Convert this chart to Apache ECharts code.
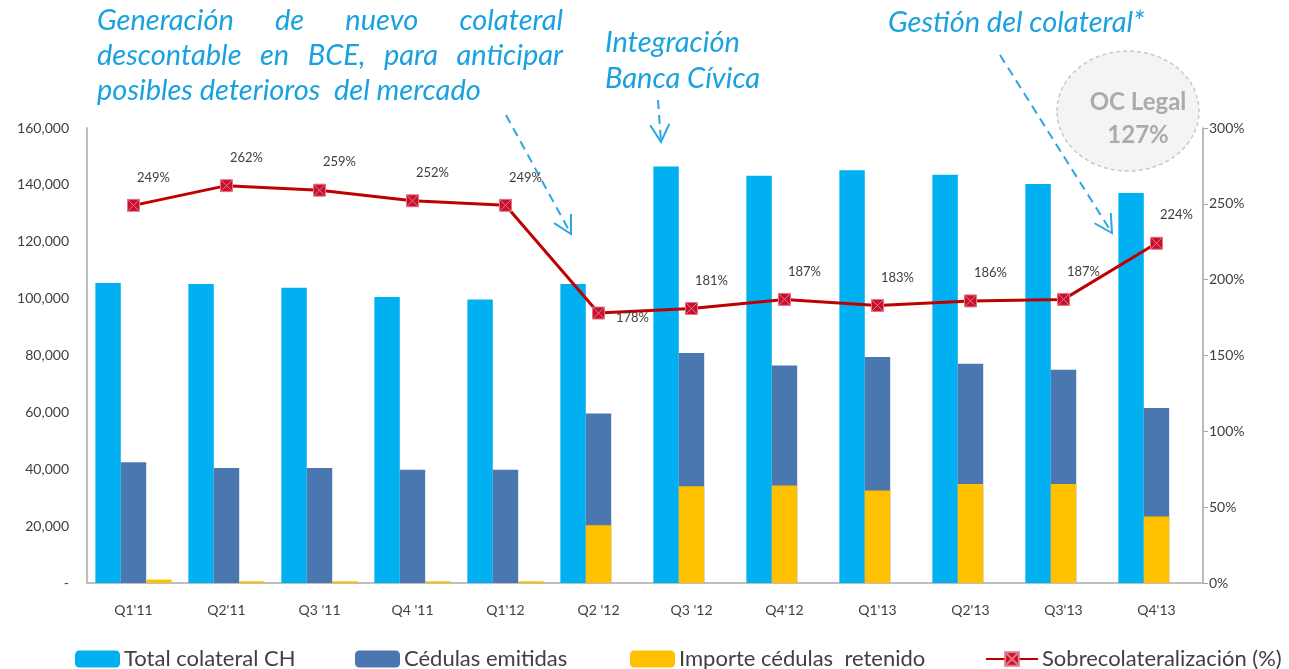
<!DOCTYPE html>
<html lang="es">
<head>
    <meta charset="UTF-8">
    <title>Colateral</title>
    <style>
        html, body { margin: 0; padding: 0; background: #fff; }
        #chart { width: 1289px; height: 669px; }
    </style>
</head>
<body>
    <div id="chart"></div>
    <script src="https://cdn.jsdelivr.net/npm/echarts@6/dist/echarts.min.js"></script>
    <script>
        // datos
        var categories = ["Q1'11", "Q2'11", "Q3 '11", "Q4 '11", "Q1'12", "Q2 '12", "Q3 '12", "Q4'12", "Q1'13", "Q2'13", "Q3'13", "Q4'13"];
        var totalColateral = [105500, 105100, 103800, 100600, 99700, 105100, 146500, 143200, 145100, 143600, 140300, 137100];
        var cedulasEmitidas = [42500, 40400, 40400, 39800, 39800, 59600, 80900, 76500, 79500, 77100, 75000, 61500];
        var cedulasRetenido = [1200, 600, 600, 600, 600, 20300, 34000, 34300, 32500, 34800, 34800, 23400];
        var sobrecolateral = [249, 262, 259, 252, 249, 178, 181, 187, 183, 186, 187, 224];
        var leftTicks = [0, 20000, 40000, 60000, 80000, 100000, 120000, 140000, 160000];

        var txt = '#404040';
        var azul = '#1AA1DF';
        var font = 'Lato';

        // desde Q2'12 el retenido se pinta sobre la barra de emitidas
        var firstOverlap = 5;
        var retenidoAparte = cedulasRetenido.map(function (v, i) { return i < firstOverlap ? v : null; });
        var retenidoSobre = cedulasRetenido.map(function (v, i) { return i >= firstOverlap ? v : null; });
        var empty = categories.map(function () { return null; });

        var lineData = sobrecolateral.map(function (v, i) {
            if (i === 5) return { value: v, label: { position: 'right', offset: [6, 5] } };
            return v;
        });

        var myChart = echarts.init(document.getElementById('chart'));

        // texto justificado: reparte el espacio entre palabras
        var ctx = document.createElement('canvas').getContext('2d');
        function justify(words, x0, x1, y, f) {
            ctx.font = f;
            var widths = words.map(function (w) { return ctx.measureText(w).width; });
            var sum = widths.reduce(function (a, b) { return a + b; }, 0);
            var gap = (x1 - x0 - sum) / (words.length - 1);
            var x = x0, out = [];
            words.forEach(function (w, i) {
                out.push({ type: 'text', x: x, y: y, style: { text: w, font: f, fill: azul, verticalAlign: 'middle' } });
                x += widths[i] + gap;
            });
            return out;
        }

        function arrow(x1, y1, x2, y2) {
            var a = Math.atan2(y2 - y1, x2 - x1), len = 20, h = 0.5;
            return [
                { type: 'line', shape: { x1: x1, y1: y1, x2: x2, y2: y2 }, style: { stroke: '#2AA7E0', lineWidth: 2, lineDash: [9, 6] } },
                { type: 'polyline', shape: { points: [
                    [x2 - len * Math.cos(a - h), y2 - len * Math.sin(a - h)],
                    [x2, y2],
                    [x2 - len * Math.cos(a + h), y2 - len * Math.sin(a + h)]
                ] }, style: { stroke: '#2AA7E0', lineWidth: 2, fill: null } }
            ];
        }

        var af = 'italic 29px Lato';
        var graphic = [].concat(
            justify(['Generación', 'de', 'nuevo', 'colateral'], 97, 563, 21, af),
            justify(['descontable', 'en', 'BCE,', 'para', 'anticipar'], 97, 563, 56, af),
            [{ type: 'text', x: 97, y: 91, style: { text: 'posibles deterioros  del mercado', font: af, fill: azul, verticalAlign: 'middle' } },
             { type: 'text', x: 605, y: 43, style: { text: 'Integración', font: af, fill: azul, verticalAlign: 'middle' } },
             { type: 'text', x: 605, y: 79, style: { text: 'Banca Cívica', font: af, fill: azul, verticalAlign: 'middle' } },
             { type: 'text', x: 888, y: 23, style: { text: 'Gestión del colateral*', font: af, fill: azul, verticalAlign: 'middle' } },
             { type: 'ellipse', shape: { cx: 1128, cy: 111, rx: 71, ry: 60 }, style: { fill: '#F4F4F4', stroke: '#C9C9C9', lineWidth: 1.5, lineDash: [4, 3] } },
             { type: 'text', x: 1138, y: 102, style: { text: 'OC Legal', font: 'bold 24px Lato', fill: '#ABABAB', align: 'center', verticalAlign: 'middle' } },
             { type: 'text', x: 1138, y: 135, style: { text: '127%', font: 'bold 24px Lato', fill: '#ABABAB', align: 'center', verticalAlign: 'middle' } }],
            arrow(506, 115, 571, 234),
            arrow(658, 100, 661, 142),
            arrow(1000, 55, 1112, 233)
        );

        function legend(name, left, w) {
            return {
                left: left, top: 648, padding: 0, data: [name], itemWidth: w, itemHeight: 17, itemGap: 0,
                textStyle: { color: txt, fontSize: 22, fontFamily: font, padding: [0, 0, 0, -1] }
            };
        }

        var barCommon = { barGap: '0%', barCategoryGap: '18%' };

        var option = {
            animation: false,
            grid: { left: 87, right: 86, top: 128, bottom: 86 },
            legend: [
                legend('Total colateral CH', 75, 45),
                legend('Cédulas emitidas', 355, 45),
                legend('Importe cédulas  retenido', 630, 45),
                legend('Sobrecolateralización (%)', 985, 52)
            ],
            xAxis: [
                {
                    type: 'category', data: categories,
                    axisLine: { lineStyle: { color: '#BFBFBF', width: 2 } },
                    axisTick: { show: false },
                    axisLabel: { color: txt, fontSize: 14, fontFamily: font, margin: 20 }
                },
                { type: 'category', data: categories, show: false }
            ],
            yAxis: [
                {
                    type: 'value', min: leftTicks[0], max: leftTicks[leftTicks.length - 1], interval: 20000,
                    axisLine: { show: true, lineStyle: { color: '#BFBFBF', width: 2 } },
                    axisTick: { show: false },
                    splitLine: { show: false },
                    axisLabel: {
                        color: txt, fontSize: 14, fontFamily: font, margin: 18,
                        formatter: function (v) { return v === 0 ? '-' : v.toLocaleString('en-US'); }
                    }
                },
                {
                    type: 'value', min: 0, max: 300, interval: 50, position: 'right',
                    axisLine: { show: true, lineStyle: { color: '#A6A6A6', width: 1.5 } },
                    axisTick: { show: true, length: 5, lineStyle: { color: '#A6A6A6' } },
                    splitLine: { show: false },
                    axisLabel: { color: txt, fontSize: 14, fontFamily: font, margin: 6, formatter: '{value}%' }
                }
            ],
            series: [
                Object.assign({ name: 'Total colateral CH', type: 'bar', data: totalColateral, itemStyle: { color: '#00B0F0' } }, barCommon),
                Object.assign({ name: 'Cédulas emitidas', type: 'bar', data: cedulasEmitidas, itemStyle: { color: '#4A77B0' } }, barCommon),
                Object.assign({ name: 'Importe cédulas  retenido', type: 'bar', data: retenidoAparte, itemStyle: { color: '#FFC000' } }, barCommon),
                // segundo eje oculto para solapar el retenido sobre emitidas
                Object.assign({ name: 'pad1', type: 'bar', xAxisIndex: 1, data: empty }, barCommon),
                Object.assign({ name: 'Importe cédulas  retenido', type: 'bar', xAxisIndex: 1, data: retenidoSobre, z: 3, itemStyle: { color: '#FFC000' } }, barCommon),
                Object.assign({ name: 'pad2', type: 'bar', xAxisIndex: 1, data: empty }, barCommon),
                {
                    name: 'Sobrecolateralización (%)', type: 'line', yAxisIndex: 1, data: lineData, z: 5,
                    symbol: 'path://M0,0H10V10H0Z M0,0L10,10 M10,0L0,10', symbolSize: 12, symbolKeepAspect: true,
                    lineStyle: { color: '#C00000', width: 3 },
                    itemStyle: { color: '#C8102E', borderColor: '#E57585', borderWidth: 1 },
                    label: {
                        show: true, position: 'top', offset: [20, -10], formatter: '{c}%',
                        color: txt, fontSize: 13, fontFamily: font
                    }
                }
            ],
            graphic: graphic
        };

        myChart.setOption(option);
    </script>
</body>
</html>
